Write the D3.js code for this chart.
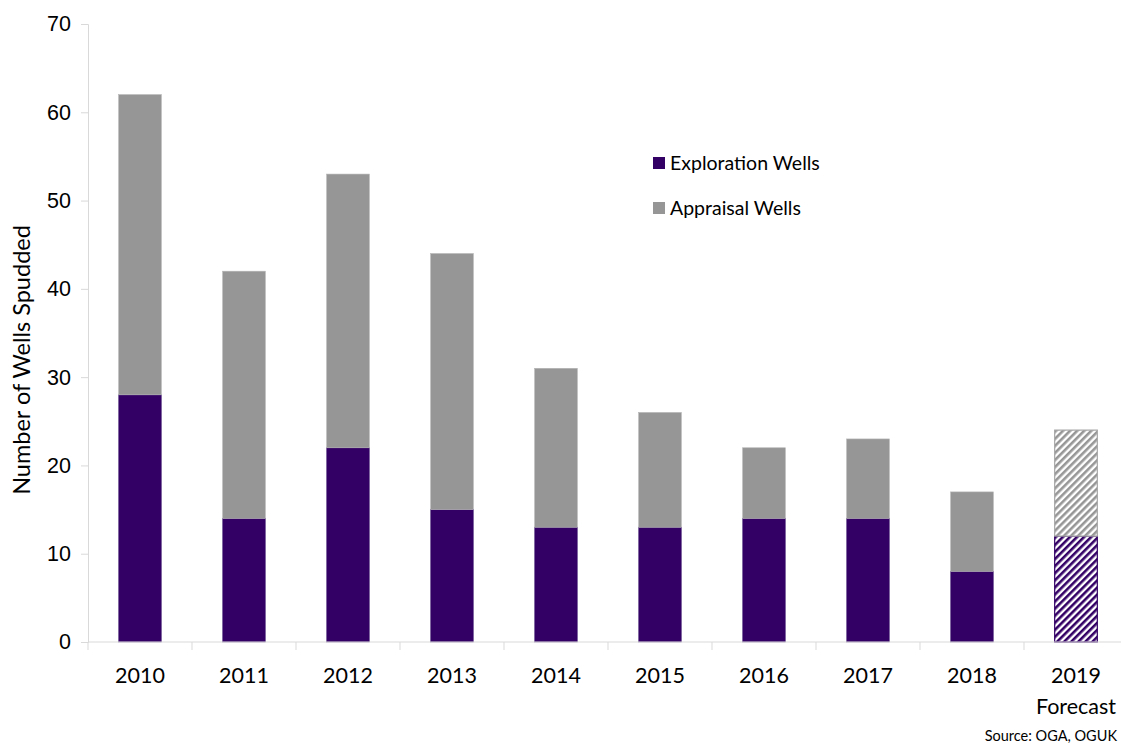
<!DOCTYPE html>
<html><head><meta charset="utf-8">
<script src="https://cdn.jsdelivr.net/npm/d3@7/dist/d3.min.js"></script>
<style>body{margin:0;background:#fff;}svg{display:block;font-family:Lato,"Open Sans",sans-serif;}</style>
</head><body>
<script>
const years = ["2010","2011","2012","2013","2014","2015","2016","2017","2018","2019"];
const exploration = [28,14,22,15,13,13,14,14,8,12];
const appraisal = [34,28,31,29,18,13,8,9,9,12];
const forecastYears = ["2019"];
const yTicks = [0,10,20,30,40,50,60,70];
const seriesNames = ["Exploration Wells","Appraisal Wells"];
const colors = ["#330066","#969696"];

const W=1121,H=746;
const svg=d3.select("body").append("svg").attr("width",W).attr("height",H);
const defs=svg.append("defs");
function hatch(id,color){
  const p=defs.append("pattern").attr("id",id).attr("patternUnits","userSpaceOnUse")
    .attr("width",5).attr("height",5).attr("patternTransform","rotate(45)");
  p.append("rect").attr("width",5).attr("height",5).attr("fill","#fff");
  p.append("rect").attr("width",2.6).attr("height",5).attr("fill",color);
}
hatch("h0",colors[0]);hatch("h1",colors[1]);

const x=d3.scaleBand().domain(years).range([88,1128]).paddingInner(0.59).paddingOuter(0.295);
const y=d3.scaleLinear().domain([0,70]).range([642,24]);

// y axis
const ya=svg.append("g").attr("transform","translate(88,0)")
  .call(d3.axisLeft(y).tickValues(yTicks).tickSize(7).tickPadding(10));
ya.select(".domain").attr("stroke","#d9d9d9");
ya.selectAll(".tick line").attr("stroke","#d9d9d9");
ya.selectAll("text").attr("font-size",21.5).attr("fill","#000");

const data=years.map((yr,i)=>({yr,e:exploration[i],a:appraisal[i],f:forecastYears.includes(yr)}));
const g=svg.append("g");
data.forEach(d=>{
  g.append("rect").attr("x",x(d.yr)).attr("width",x.bandwidth())
    .attr("y",y(d.e)).attr("height",y(0)-y(d.e))
    .attr("fill",d.f?"url(#h0)":colors[0]).attr("stroke",d.f?colors[0]:"#5a3d85").attr("stroke-width",d.f?1.2:0.6);
  g.append("rect").attr("x",x(d.yr)).attr("width",x.bandwidth())
    .attr("y",y(d.e+d.a)).attr("height",y(d.e)-y(d.e+d.a))
    .attr("fill",d.f?"url(#h1)":colors[1]).attr("stroke",d.f?"#a6a6a6":"#b4b4b4").attr("stroke-width",d.f?1.2:0.6);
});

// x axis
const xa=svg.append("g").attr("transform","translate(0,642)");
xa.append("line").attr("x1",88).attr("x2",1128).attr("stroke","#d9d9d9").attr("stroke-width",1.2);
const bounds=d3.range(years.length+1).map(i=>88+i*x.step());
xa.selectAll("line.t").data(bounds.slice(0,years.length)).join("line").attr("class","t")
  .attr("x1",d=>d).attr("x2",d=>d).attr("y1",0).attr("y2",8).attr("stroke","#d9d9d9");
xa.selectAll("text.yr").data(years).join("text").attr("class","yr")
  .attr("x",d=>x(d)+x.bandwidth()/2).attr("y",41).attr("text-anchor","middle")
  .attr("font-size",21.5).text(d=>d);
xa.append("text").attr("x",x("2019")+x.bandwidth()/2).attr("y",72).attr("text-anchor","middle")
  .attr("font-size",21.5).text("Forecast");

// y title
svg.append("text").attr("transform","translate(30,360) rotate(-90)").attr("text-anchor","middle")
  .attr("font-size",23.5).text("Number of Wells Spudded");

// legend
const lg=svg.append("g");
seriesNames.forEach((n,i)=>{
  lg.append("rect").attr("x",653).attr("y",157+i*45).attr("width",12).attr("height",12).attr("fill",colors[i]);
  lg.append("text").attr("x",670).attr("y",170+i*45).attr("font-size",19.5).text(n);
});

svg.append("text").attr("x",1117).attr("y",741).attr("text-anchor","end").attr("font-size",14.5).text("Source: OGA, OGUK");
</script>
</body></html>
